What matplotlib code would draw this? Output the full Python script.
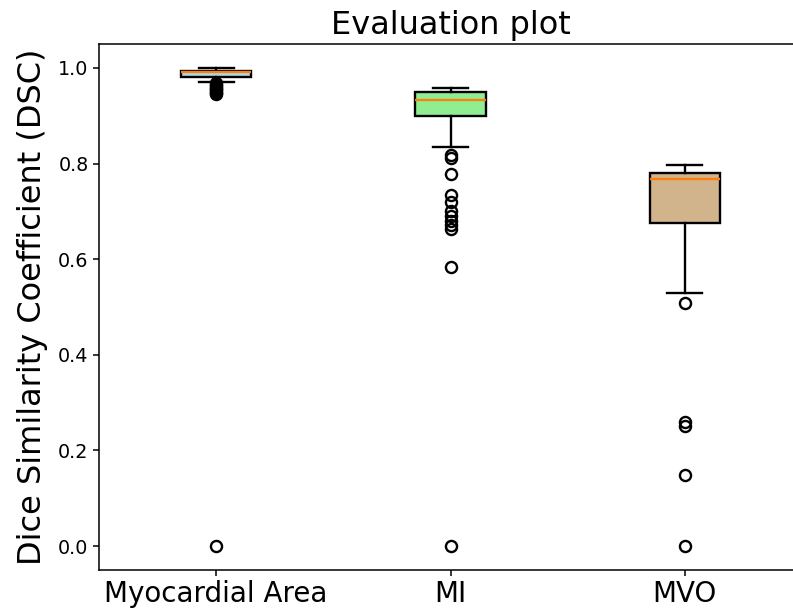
import matplotlib
matplotlib.use("Agg")
import matplotlib.pyplot as plt

categories = ["Myocardial Area", "MI", "MVO"]
whisker_low = [0.970, 0.835, 0.530]
q1 = [0.982, 0.900, 0.676]
median = [0.991, 0.933, 0.768]
q3 = [0.993, 0.949, 0.780]
whisker_high = [0.999, 0.9575, 0.798]
fliers_myo = [0.968, 0.965, 0.962, 0.959, 0.956, 0.953, 0.950, 0.947, 0.945, 0.0]
fliers_mi = [0.818, 0.811, 0.778, 0.734, 0.72, 0.70, 0.69, 0.68, 0.672, 0.663, 0.584, 0.0]
fliers_mvo = [0.508, 0.260, 0.252, 0.149, 0.0]
box_colors = ["lightblue", "lightgreen", "tan"]

fliers = [fliers_myo, fliers_mi, fliers_mvo]
stats = []
for i, name in enumerate(categories):
    stats.append(dict(label=name, whislo=whisker_low[i], q1=q1[i], med=median[i],
                      q3=q3[i], whishi=whisker_high[i], fliers=fliers[i]))

fig = plt.figure(figsize=(7.93, 6.14), dpi=100)
W, H = 793, 614
ax = fig.add_axes([99 / W, 44 / H, 703 / W, 526 / H])

lw = 1.7
bp = ax.bxp(stats, widths=0.3, patch_artist=True,
            boxprops=dict(linewidth=lw, edgecolor="black"),
            whiskerprops=dict(linewidth=lw),
            capprops=dict(linewidth=lw),
            medianprops=dict(linewidth=lw, color="C1"),
            flierprops=dict(marker="o", markersize=8, markeredgewidth=1.7,
                            markerfacecolor="none", markeredgecolor="black"))
for patch, c in zip(bp["boxes"], box_colors):
    patch.set_facecolor(c)

ax.set_xlim(0.5, 3.5)
ax.set_ylim(-0.05, 1.05)
ax.spines["right"].set_visible(False)
ax.set_title("Evaluation plot", fontsize=23, pad=7)
ax.set_ylabel("Dice Similarity Coefficient (DSC)", fontsize=23, labelpad=7)
ax.tick_params(axis="x", labelsize=20, width=1.1, length=4)
ax.tick_params(axis="y", labelsize=13.8, width=1.1, length=4)
for s in ax.spines.values():
    s.set_linewidth(1.1)

fig.savefig("out.png", dpi=100)
